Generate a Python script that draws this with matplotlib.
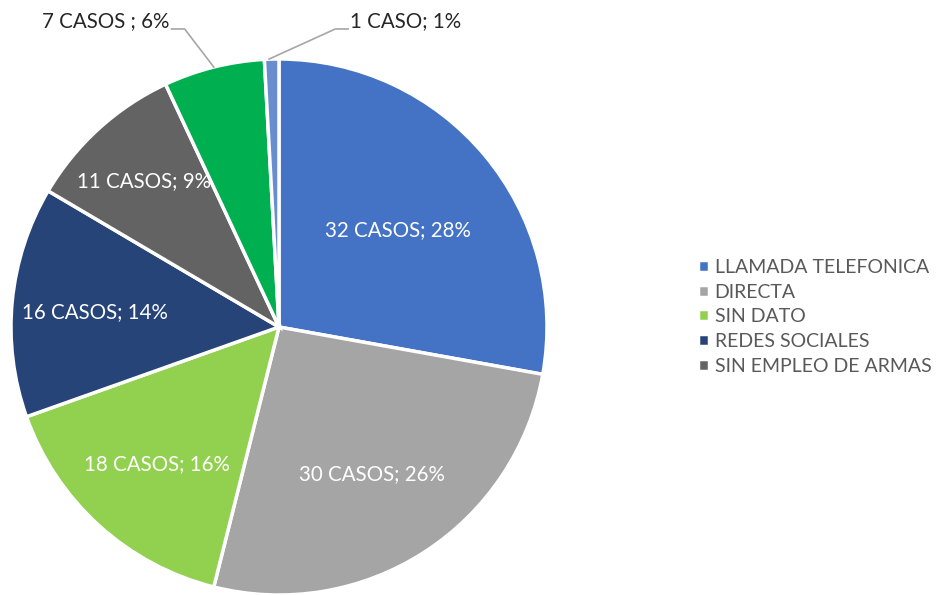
import numpy as np
import matplotlib.pyplot as plt

plt.rcParams['font.family'] = ['Lato', 'DejaVu Sans']

# datos
categorias = ['LLAMADA TELEFONICA', 'DIRECTA', 'SIN DATO', 'REDES SOCIALES',
              'SIN EMPLEO DE ARMAS', 'OTROS', 'OTRO']
casos = [32, 30, 18, 16, 11, 7, 1]
etiquetas = ['32 CASOS; 28%', '30 CASOS; 26%', '18 CASOS; 16%', '16 CASOS; 14%',
             '11 CASOS; 9%', '7 CASOS ; 6%', '1 CASO; 1%']
colores = ['#4472C4', '#A5A5A5', '#92D050', '#264478', '#636363', '#00B050', '#698ED0']

fig = plt.figure(figsize=(9.46, 5.95), dpi=100)
W, H = 946, 595
cx, cy, r = 279, 327, 268
ax = fig.add_axes([(cx - r) / W, (H - cy - r) / H, 2 * r / W, 2 * r / H])

wedges, _ = ax.pie(casos, colors=colores, startangle=90, counterclock=False,
                   radius=1, wedgeprops=dict(edgecolor='white', linewidth=2.5))
for w in wedges:
    w.set_clip_on(False)
ax.set_xlim(-1, 1)
ax.set_ylim(-1, 1)
ax.set_aspect('equal')
ax.axis('off')

# etiquetas dentro
radios = [0.58, 0.64, 0.68, 0.69, 0.75]
for w, lab, rr in zip(wedges[:5], etiquetas[:5], radios):
    ang = np.deg2rad((w.theta1 + w.theta2) / 2)
    ax.text(rr * np.cos(ang), rr * np.sin(ang) - 0.01, lab, color='white',
            fontsize=14.8, ha='center', va='center')

# etiquetas fuera con lineas guia
lc = '#A6A6A6'
w = wedges[5]
ang = np.deg2rad((w.theta1 + w.theta2) / 2)
px, py = np.cos(ang), np.sin(ang)
ax.plot([px, -0.352, -0.401], [py, 1.112, 1.112], color=lc, lw=1.2, clip_on=False)
ax.text(-0.41, 1.14, etiquetas[5], fontsize=14.8, color='#262626',
        ha='right', va='center')

w = wedges[6]
ang = np.deg2rad((w.theta1 + w.theta2) / 2)
px, py = np.cos(ang), np.sin(ang)
ax.plot([px - 0.01, 0.21, 0.258], [py, 1.112, 1.112], color=lc, lw=1.2, clip_on=False)
ax.text(0.265, 1.14, etiquetas[6], fontsize=14.8, color='#262626',
        ha='left', va='center')

# leyenda
fig.legend(wedges[:5], categorias[:5], loc='upper left',
           bbox_to_anchor=(688 / W, 1 - 249 / H), frameon=False,
           fontsize=14, labelcolor='#595959', handlelength=0.57, handleheight=0.57,
           handletextpad=0.3, labelspacing=0.4, borderpad=0)

fig.savefig('out.png', dpi=100)
